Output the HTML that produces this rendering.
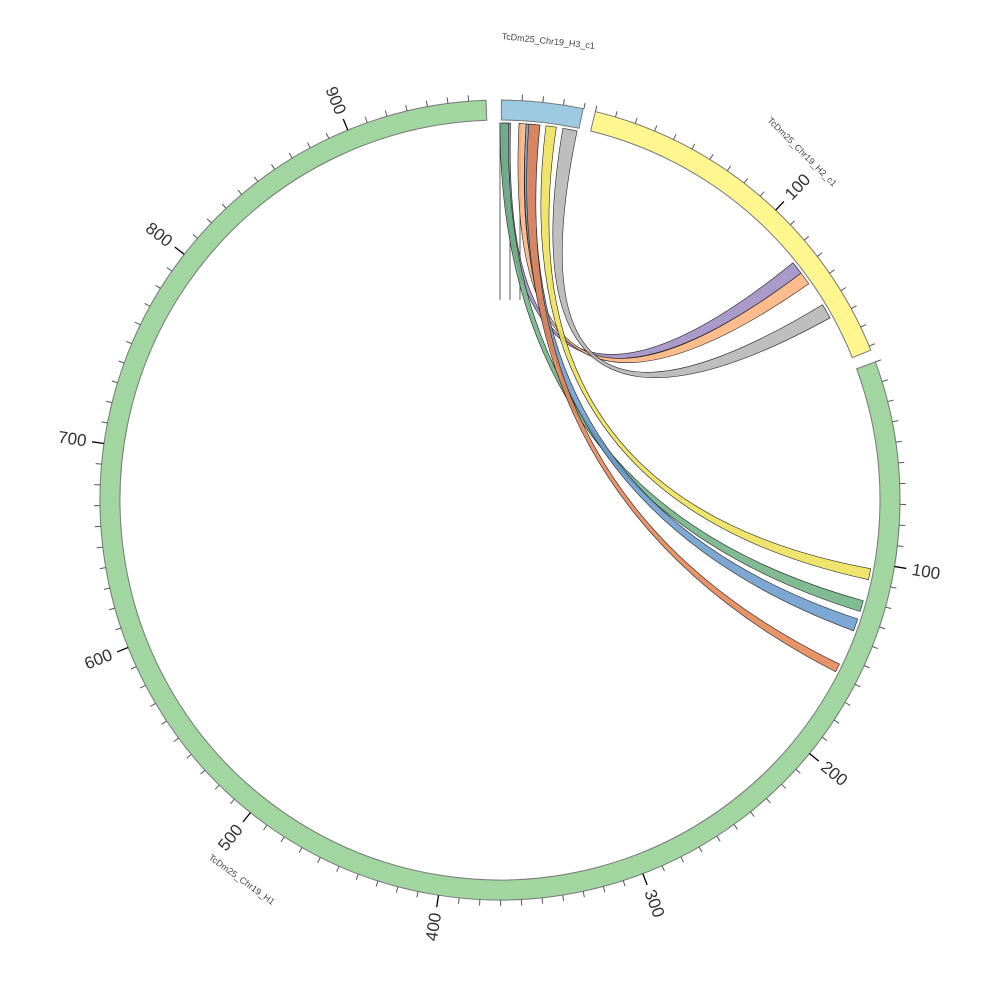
<!DOCTYPE html>
<html><head><meta charset="utf-8"><style>html,body{margin:0;padding:0;background:#fff}svg{display:block}</style></head>
<body>
<svg id="s" width="1000" height="1000" viewBox="0 0 1000 1000" xmlns="http://www.w3.org/2000/svg" font-family="Liberation Sans, sans-serif"></svg>
<script>
const S=document.getElementById('s');const cx=500,cy=500;const K=0.2976;
const rad=a=>a*Math.PI/180;
const P=(r,a)=>[cx+r*Math.sin(rad(a)),cy-r*Math.cos(rad(a))];
const f=p=>p[0].toFixed(2)+','+p[1].toFixed(2);
let h='';
function ring(a1,a2,fill){const r1=380,r2=400;const lg=(a2-a1)>180?1:0;
h+=`<path d="M${f(P(r2,a1))} A${r2},${r2} 0 ${lg} 1 ${f(P(r2,a2))} L${f(P(r1,a2))} A${r1},${r1} 0 ${lg} 0 ${f(P(r1,a1))} Z" fill="${fill}" stroke="#777" stroke-width="1"/>`;}
function ribbon(s1,s2,t1,t2,col){const r=377;
h+=`<path d="M${f(P(r,s1))} A${r},${r} 0 0 1 ${f(P(r,s2))} Q500,500 ${f(P(r,t1))} A${r},${r} 0 0 1 ${f(P(r,t2))} Q500,500 ${f(P(r,s1))} Z" fill="${col}" fill-opacity="0.85" stroke="#222" stroke-width="0.6"/>`;}
[500,510,520].forEach(x=>{h+=`<line x1="${x}" y1="123" x2="${x}" y2="300" stroke="#333" stroke-width="0.8"/>`;});
ribbon(0.3,1.6,51,53,'#9b88c0');
ribbon(0,1.3,105.5,107.2,'#6aaf80');
ribbon(2.9,4.0,53,55,'#fdb07a');
ribbon(4.0,6.0,108.4,110.3,'#6699cc');
ribbon(4.4,6.1,115.8,117.1,'#e5804f');
ribbon(7.0,8.6,100.5,102.2,'#ece153');
ribbon(9.6,11.8,58.8,61.1,'#b3b3b3');
ring(69.8,358,'#a1d6a1');ring(13.8,68,'#fff68f');ring(0.2,12,'#9ecae1');
function ticks(a0,umax,labels,skip0){for(let u=0;u<=umax;u+=10){const a=a0+K*u;const maj=u%100==0&&u>0;
if(u==0&&skip0)continue;
const p1=P(400,a),p2=P(maj?412:406,a);
h+=`<line x1="${p1[0].toFixed(2)}" y1="${p1[1].toFixed(2)}" x2="${p2[0].toFixed(2)}" y2="${p2[1].toFixed(2)}" stroke="${maj?'#000':'#555'}" stroke-width="${maj?1.3:1}"/>`;
if(maj&&labels){const p=P(432,a);let rot=a-90;if(a>180)rot-=180;
h+=`<text x="${p[0].toFixed(1)}" y="${p[1].toFixed(1)}" font-size="17" fill="#333" text-anchor="middle" dominant-baseline="central" transform="rotate(${rot.toFixed(1)} ${p[0].toFixed(1)} ${p[1].toFixed(1)})">${u}</text>`;}}}
ticks(69.8,960,true,false);ticks(13.8,180,true,false);ticks(0.2,40,false,true);
h+=`<text x="548" y="44" font-size="9" fill="#444" text-anchor="middle" transform="rotate(6 548 44)">TcDm25_Chr19_H3_c1</text>`;
h+=`<text x="800" y="154" font-size="9" fill="#444" text-anchor="middle" transform="rotate(45 800 154)">TcDm25_Chr19_H2_c1</text>`;
h+=`<text x="240" y="882" font-size="9" fill="#444" text-anchor="middle" transform="rotate(36 240 882)">TcDm25_Chr19_H1</text>`;
S.innerHTML=h;
</script>
</body></html>
